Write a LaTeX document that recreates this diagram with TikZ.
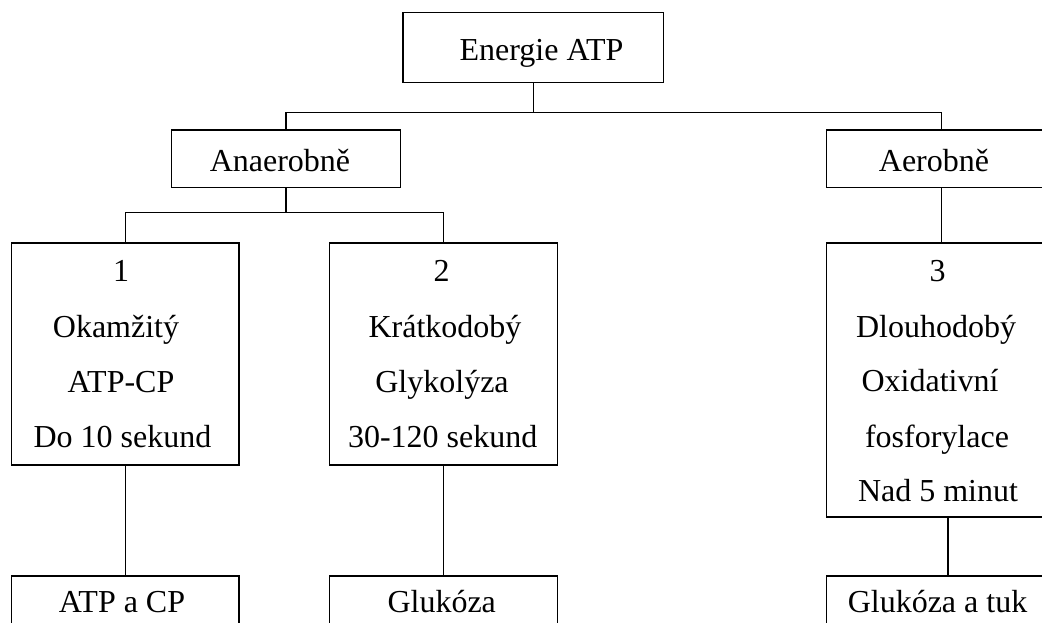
\documentclass[tikz,border=0pt]{standalone}
\usepackage{fontspec}
\setmainfont{Liberation Serif}
\begin{document}
\begin{tikzpicture}[x=1pt,y=-1pt,
  box/.style={draw=black,line width=1.3pt,inner sep=0pt,outer sep=0pt,fill=white},
  txt/.style={inner sep=0pt,anchor=base,font=\fontsize{32}{38}\selectfont},
  con/.style={draw=black,line width=1.3pt}]
\useasboundingbox (0,0) rectangle (1042,623);
\fill[white] (0,0) rectangle (1042,623);
\clip (0,0) rectangle (1042,623);
% boxes
\node[box,minimum width=260.7pt,minimum height=70.4pt] (E) at (533.3,47.5) {};
\node[box,minimum width=228.6pt,minimum height=57.3pt] (An) at (286,158.7) {};
\node[box,minimum width=230pt,minimum height=57.3pt] (Ae) at (941.3,158.7) {};
\node[box,minimum width=227.7pt,minimum height=222pt] (B1) at (125.2,354) {};
\node[box,minimum width=228pt,minimum height=222pt] (B2) at (443.7,354) {};
\node[box,minimum width=230pt,minimum height=274pt] (B3) at (941.3,380) {};
\node[box,minimum width=227.7pt,minimum height=80pt] (C1) at (125.2,616) {};
\node[box,minimum width=228pt,minimum height=80pt] (C2) at (443.7,616) {};
\node[box,minimum width=243.4pt,minimum height=80pt] (C3) at (948,616) {};
% connectors
\path (E.south) ++(0,30) coordinate (j1);
\draw[con] (E.south) -- (j1);
\draw[con] (An.north) |- (j1) -| (Ae.north);
\path (An.south) ++(0,25) coordinate (j2);
\draw[con] (An.south) -- (j2);
\draw[con] (B1.north) |- (j2) -| (B2.north);
\draw[con] (Ae.south) -- (B3.north);
\draw[con] (B1.south) -- (C1.north);
\draw[con] (B2.south) -- (C2.north);
\draw[con] (C3.north |- B3.south) -- (C3.north);
% texts
\node[txt] (tE) at (541.5,61) {Energie ATP};
\node[txt] (tAn) at (280,171.7) {Anaerobně};
\node[txt] (tAe) at (934,171.7) {Aerobně};
\node[txt] (t11) at (121,281.7) {1};
\node[txt] (t12) at (116,337.7) {Okamžitý};
\node[txt] (t13) at (121,392.7) {ATP-CP};
\node[txt] (t14) at (122.5,447.7) {Do 10 sekund};
\node[txt] (t21) at (441.7,281.7) {2};
\node[txt] (t22) at (445,337.7) {Krátkodobý};
\node[txt] (t23) at (442,392.7) {Glykolýza};
\node[txt] (t24) at (442.7,447.7) {30-120 sekund};
\node[txt] (t31) at (937.7,281.7) {3};
\node[txt] (t32) at (936,337) {Dlouhodobý};
\node[txt] (t33) at (930,391.7) {Oxidativní};
\node[txt] (t34) at (937,447.7) {fosforylace};
\node[txt] (t35) at (938,501.7) {Nad 5 minut};
\node[txt] (tC1) at (122,612.7) {ATP a CP};
\node[txt] (tC2) at (441.7,612.7) {Glukóza};
\node[txt] (tC3) at (937.5,612.7) {Glukóza a tuk};
\end{tikzpicture}
\end{document}
